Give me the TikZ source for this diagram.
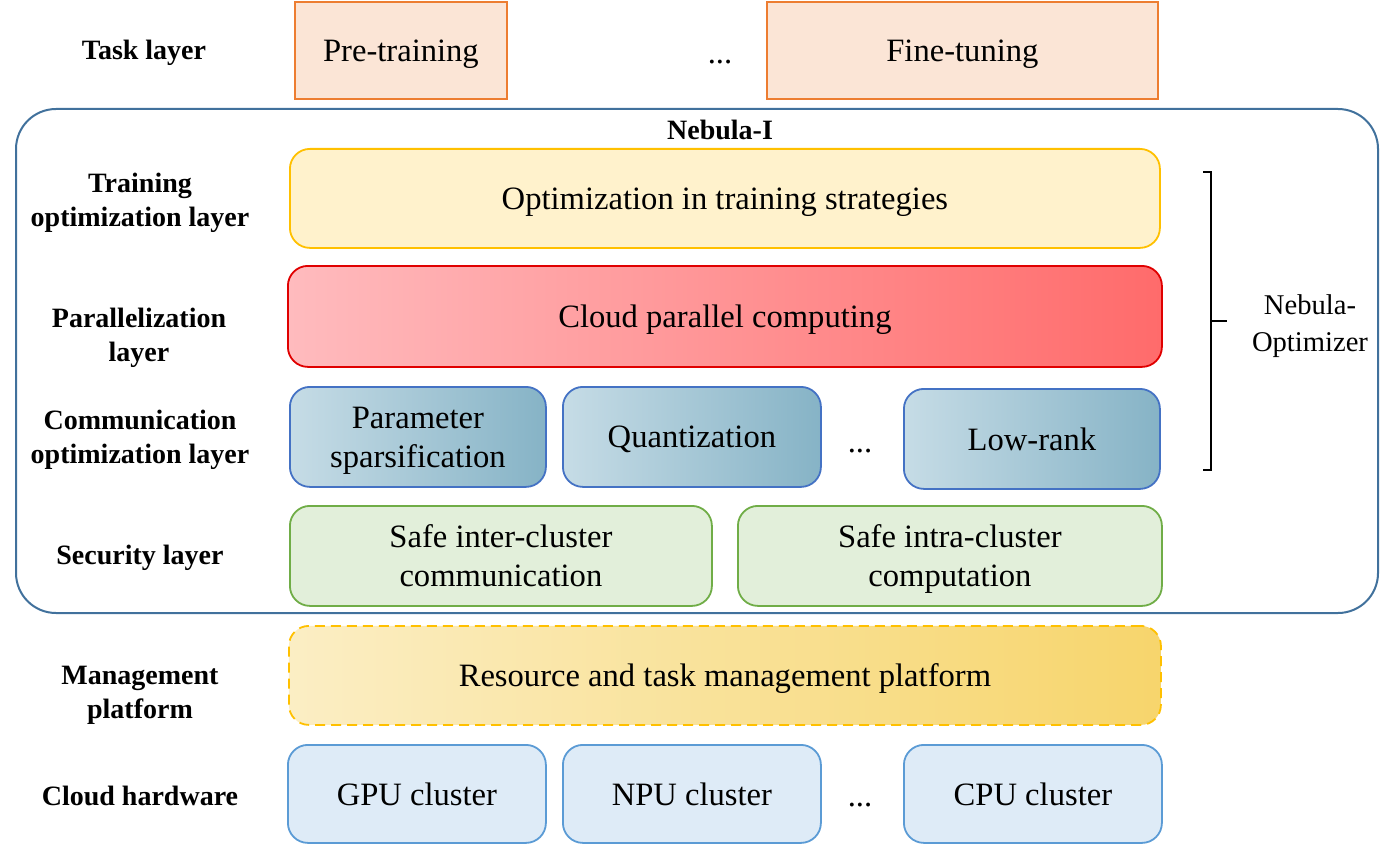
\documentclass[tikz,border=0pt]{standalone}
\usepackage{fontspec}
\setmainfont{Liberation Serif}
\begin{document}
\begin{tikzpicture}[x=0.5pt,y=-0.5pt,
  lab/.style={font=\fontsize{14}{17}\selectfont\bfseries, align=center},
  txt/.style={font=\fontsize{16.3}{19.5}\selectfont, align=center},
  dots/.style={txt, anchor=base},
  rbox/.style={txt, text depth=0pt, draw, rounded corners=10pt, line width=0.9pt, inner sep=0pt, anchor=north west},
  taskbox/.style={txt, text depth=0pt, draw=taskedge, fill=taskfill, line width=0.9pt, inner sep=0pt, anchor=north west},
  trainbox/.style={rbox, draw=trainedge, fill=trainfill},
  parbox/.style={rbox, draw=paredge, left color=parleft, right color=parright},
  combox/.style={rbox, draw=comedge, left color=comleft, right color=comright},
  secbox/.style={rbox, draw=secedge, fill=secfill},
  mgmtbox/.style={rbox, draw=mgmtedge, dashed, dash pattern=on 5pt off 3pt, left color=mgmtleft, right color=mgmtright},
  hwbox/.style={rbox, draw=hwedge, fill=hwfill},
]
\definecolor{taskedge}{HTML}{ED7D31}
\definecolor{taskfill}{HTML}{FBE5D6}
\definecolor{nebedge}{HTML}{41719C}
\definecolor{trainedge}{HTML}{FFC000}
\definecolor{trainfill}{HTML}{FFF2CC}
\definecolor{paredge}{HTML}{E00000}
\definecolor{parleft}{HTML}{FFBBBE}
\definecolor{parright}{HTML}{FF6B6B}
\definecolor{comedge}{HTML}{4472C4}
\definecolor{comleft}{HTML}{C6DCE6}
\definecolor{comright}{HTML}{86B3C6}
\definecolor{secedge}{HTML}{70AD47}
\definecolor{secfill}{HTML}{E2EFDA}
\definecolor{mgmtedge}{HTML}{FFC000}
\definecolor{mgmtleft}{HTML}{FBEEC4}
\definecolor{mgmtright}{HTML}{F7D56C}
\definecolor{hwedge}{HTML}{5B9BD5}
\definecolor{hwfill}{HTML}{DEEBF7}

\useasboundingbox (0,0) rectangle (1390,845);

% Task layer
\node[lab] (tasklab) at (144,53) {Task layer};
\node[taskbox, minimum width=212*0.5pt, minimum height=97*0.5pt] (pre) at (294,1) {Pre-training};
\node[dots] (taskdots) at (720,64) {...};
\node[taskbox, minimum width=391*0.5pt, minimum height=97*0.5pt] (fine) at (766,1) {Fine-tuning};

% Nebula-I frame
\draw[draw=nebedge, line width=1pt, rounded corners=20pt] (16,109) rectangle (1378,613);
\node[lab] (nebula) at (720,130) {Nebula-I};

% Training optimization
\node[lab] (trainlab) at (140,203) {Training\\optimization layer};
\node[trainbox, minimum width=870*0.5pt, minimum height=99*0.5pt] (train) at (289,148) {Optimization in training strategies};

% Parallelization
\node[lab] (parlab) at (139,338) {Parallelization\\layer};
\node[parbox, minimum width=874*0.5pt, minimum height=101*0.5pt] (par) at (287,265) {Cloud parallel computing};

% Communication
\node[lab] (comlab) at (140,440) {Communication\\optimization layer};
\node[combox, minimum width=256*0.5pt, minimum height=100*0.5pt] (sparse) at (289,386) {Parameter\\sparsification};
\node[combox, minimum width=258*0.5pt, minimum height=100*0.5pt] (quant) at (562,386) {Quantization};
\node[dots] (comdots) at (860,452) {...};
\node[combox, minimum width=256*0.5pt, minimum height=100*0.5pt] (lowrank) at (903,388) {Low-rank};

% Security
\node[lab] (seclab) at (140,558) {Security layer};
\node[secbox, minimum width=422*0.5pt, minimum height=100*0.5pt] (inter) at (289,505) {Safe inter-cluster\\communication};
\node[secbox, minimum width=424*0.5pt, minimum height=100*0.5pt] (intra) at (737,505) {Safe intra-cluster\\computation};

% Management
\node[lab] (mgmtlab) at (140,695) {Management\\platform};
\node[mgmtbox, minimum width=872*0.5pt, minimum height=99*0.5pt] (mgmt) at (288,625) {Resource and task management platform};

% Hardware
\node[lab] (hwlab) at (140,796) {Cloud hardware};
\node[hwbox, minimum width=258*0.5pt, minimum height=98*0.5pt] (gpu) at (287,744) {GPU cluster};
\node[hwbox, minimum width=258*0.5pt, minimum height=98*0.5pt] (npu) at (562,744) {NPU cluster};
\node[dots] (hwdots) at (860,806) {...};
\node[hwbox, minimum width=258*0.5pt, minimum height=98*0.5pt] (cpu) at (903,744) {CPU cluster};

% Bracket
\coordinate (bt) at (1203,172);
\coordinate (bb) at (1203,470);
\coordinate (bm) at (1211,321);
\coordinate (bmr) at (1227,321);
\draw[line width=0.8pt] (bt) -- ++(8,0) coordinate (btr) -- (btr |- bb) -- (bb);
\draw[line width=0.8pt] (bm) -- (bmr);
\node[txt, font=\fontsize{14.3}{18.5}\selectfont] (optlab) at (1310,326) {Nebula-\\Optimizer};
\end{tikzpicture}
\end{document}
